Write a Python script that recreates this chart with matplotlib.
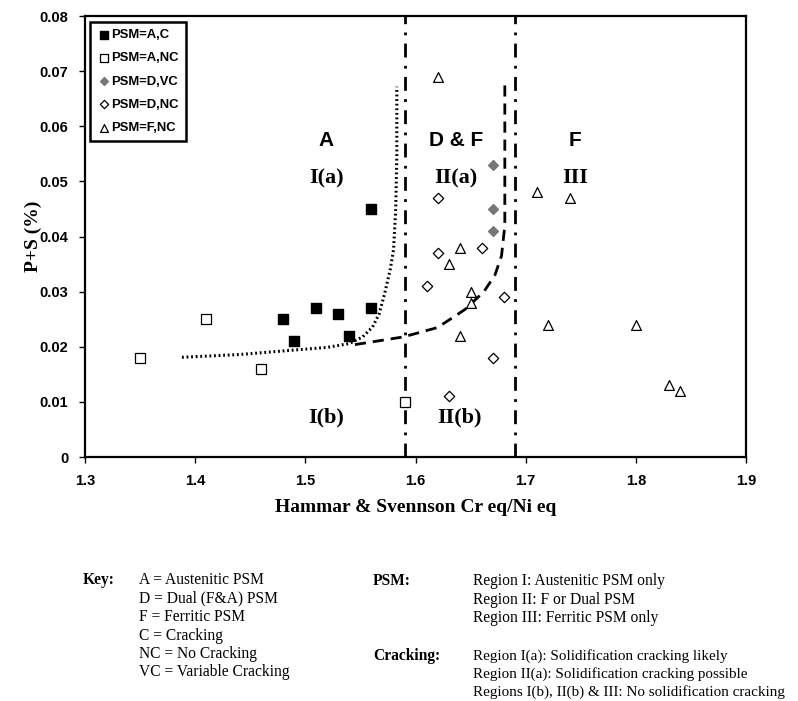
import matplotlib
matplotlib.use("Agg")
import matplotlib.pyplot as plt
import numpy as np

# data
ac_x = [1.48, 1.49, 1.51, 1.53, 1.54, 1.56, 1.56]
ac_y = [0.025, 0.021, 0.027, 0.026, 0.022, 0.027, 0.045]
anc_x = [1.35, 1.41, 1.46, 1.59]
anc_y = [0.018, 0.025, 0.016, 0.010]
dvc_x = [1.67, 1.67, 1.67]
dvc_y = [0.053, 0.045, 0.041]
dnc_x = [1.62, 1.62, 1.61, 1.66, 1.68, 1.67, 1.63]
dnc_y = [0.047, 0.037, 0.031, 0.038, 0.029, 0.018, 0.011]
fnc_x = [1.62, 1.71, 1.74, 1.64, 1.63, 1.65, 1.65, 1.64, 1.72, 1.80, 1.83, 1.84]
fnc_y = [0.069, 0.048, 0.047, 0.038, 0.035, 0.030, 0.028, 0.022, 0.024, 0.024, 0.013, 0.012]

# boundary curves
dot_x = [1.388, 1.44, 1.489, 1.52, 1.540, 1.552, 1.561, 1.567, 1.572, 1.577, 1.580, 1.582, 1.583, 1.583]
dot_y = [0.0181, 0.0186, 0.0194, 0.0199, 0.0206, 0.0218, 0.0236, 0.026, 0.0297, 0.034, 0.0376, 0.045, 0.055, 0.0672]
dash_x = [1.545, 1.589, 1.62, 1.645, 1.662, 1.672, 1.678, 1.681, 1.681]
dash_y = [0.0204, 0.0218, 0.0235, 0.0268, 0.0300, 0.0330, 0.0365, 0.042, 0.068]
vlines_x = [1.59, 1.69]

key_items = ['A = Austenitic PSM', 'D = Dual (F&A) PSM', 'F = Ferritic PSM', 'C = Cracking',
             'NC = No Cracking', 'VC = Variable Cracking']
psm_items = ['Region I: Austenitic PSM only', 'Region II: F or Dual PSM', 'Region III: Ferritic PSM only']
crack_items = ['Region I(a): Solidification cracking likely', 'Region II(a): Solidification cracking possible',
               'Regions I(b), II(b) & III: No solidification cracking']

fig = plt.figure(figsize=(7.98, 7.01), dpi=100)
ax = fig.add_axes([0.1065, 0.348, 0.8285, 0.629])

ax.scatter(ac_x, ac_y, marker='s', s=45, c='black', label='PSM=A,C', zorder=3)
ax.scatter(anc_x, anc_y, marker='s', s=45, facecolors='white', edgecolors='black', linewidths=0.9, label='PSM=A,NC', zorder=3)
ax.scatter(dvc_x, dvc_y, marker='D', s=25, c='#777777', label='PSM=D,VC', zorder=3)
ax.scatter(dnc_x, dnc_y, marker='D', s=28, facecolors='white', edgecolors='black', linewidths=0.9, label='PSM=D,NC', zorder=3)
ax.scatter(fnc_x, fnc_y, marker='^', s=50, facecolors='white', edgecolors='black', linewidths=0.9, label='PSM=F,NC', zorder=3)

ax.plot(dot_x, dot_y, color='black', linestyle=(0, (0.6, 0.9)), linewidth=2.2, zorder=2)
ax.plot(dash_x, dash_y, color='black', linestyle=(0, (4, 2.5)), linewidth=2, zorder=2)
for xv in vlines_x:
    ax.plot([xv, xv], [0, 0.08], color='black', linestyle=(0, (5, 3, 1, 3)), linewidth=2, zorder=2)

ax.set_xlim(1.3, 1.9)
ax.set_ylim(0, 0.08)
ax.set_xticks(np.arange(1.3, 1.91, 0.1))
ax.set_yticks(np.arange(0, 0.081, 0.01))
ax.set_xticklabels(['1.3', '1.4', '1.5', '1.6', '1.7', '1.8', '1.9'])
ax.set_yticklabels(['0', '0.01', '0.02', '0.03', '0.04', '0.05', '0.06', '0.07', '0.08'])
for lab in ax.get_xticklabels() + ax.get_yticklabels():
    lab.set_family('Liberation Sans')
    lab.set_fontweight('bold')
    lab.set_fontsize(10.5)
ax.tick_params(direction='out', length=4, width=1, pad=8)
for sp in ax.spines.values():
    sp.set_linewidth(1.6)

ax.set_xlabel('Hammar & Svennson Cr eq/Ni eq', family='Liberation Serif', fontweight='bold', fontsize=14, labelpad=8)
ax.set_ylabel('P+S (%)', family='Liberation Serif', fontweight='bold', fontsize=14, labelpad=-2)

sans = dict(family='Liberation Sans', fontweight='bold', fontsize=15, ha='center', va='center')
serif = dict(family='Liberation Serif', fontweight='bold', fontsize=16, ha='center', va='center')
ax.text(1.519, 0.0575, 'A', **sans)
ax.text(1.637, 0.0575, 'D & F', **sans)
ax.text(1.745, 0.0575, 'F', **sans)
ax.text(1.519, 0.0506, 'I(a)', **serif)
ax.text(1.637, 0.0506, 'II(a)', **serif)
ax.text(1.745, 0.0506, 'III', **serif)
ax.text(1.519, 0.0071, 'I(b)', **serif)
ax.text(1.64, 0.0071, 'II(b)', **serif)

leg = ax.legend(loc='upper left', bbox_to_anchor=(0.002, 0.996), prop={'family': 'Liberation Sans', 'weight': 'bold', 'size': 9.4},
                fancybox=False, edgecolor='black', framealpha=1, handletextpad=0.05, handlelength=1.0,
                borderpad=0.55, labelspacing=0.85, markerscale=0.8, borderaxespad=0.3)
leg.get_frame().set_linewidth(1.8)

def fy(py):
    return 1 - py / 701.0

kw = dict(family='Liberation Serif', fontsize=11.2, va='center')
fig.text(83 / 798, fy(580), 'Key:', fontweight='bold', **kw)
for i, t in enumerate(key_items):
    fig.text(139 / 798, fy(580 + 18.5 * i), t, **kw)
fig.text(373 / 798, fy(581), 'PSM:', fontweight='bold', **kw)
for i, t in enumerate(psm_items):
    fig.text(473 / 798, fy(581 + 18.5 * i), t, **kw)
fig.text(373 / 798, fy(656), 'Cracking:', fontweight='bold', **kw)
kw_small = dict(kw, fontsize=10.9)
for i, t in enumerate(crack_items):
    fig.text(473 / 798, fy(656 + 18 * i), t, **kw_small)

fig.savefig('out.png', dpi=100)
